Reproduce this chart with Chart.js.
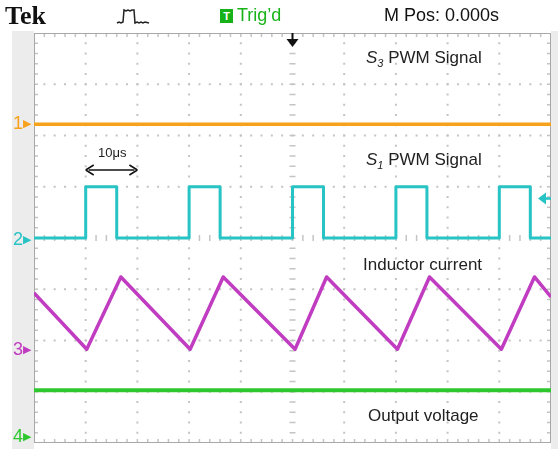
<!DOCTYPE html>
<html>
<head>
<meta charset="utf-8">
<script src="https://cdn.jsdelivr.net/npm/chart.js@4.4.0/dist/chart.umd.min.js"></script>
<style>
  body { margin: 0; background: #fff; }
  #wrap { position: relative; width: 558px; height: 449px; overflow: hidden; font-family: "Liberation Sans", Arial, sans-serif; }
  #side { position: absolute; left: 12px; top: 31px; width: 22px; height: 418px; background: #ececec; }
  #rside { position: absolute; left: 551px; top: 31px; width: 7px; height: 418px; background: #ececec; }
  canvas { position: absolute; left: 0; top: 0; }
  .lbl { position: absolute; white-space: nowrap; }
  .note { font-size: 17px; color: #222; }
  .hdr { font-family: "Liberation Sans Narrow", "Liberation Sans", sans-serif; font-stretch: condensed; font-size: 17px; color: #111; }
  .ch { font-size: 18px; }
  .ch span { font-size: 11px; vertical-align: 2px; }
</style>
</head>
<body>
<div id="wrap">
  <div id="side"></div>
  <div id="rside"></div>
  <canvas id="scope" width="558" height="449"></canvas>

  <div class="lbl" style="left:5px;top:1px;font-family:'Liberation Serif',serif;font-weight:bold;font-size:26px;color:#111;">Tek</div>
  <svg class="lbl" style="left:116px;top:6px" width="36" height="20">
    <polyline points="1,17 3,16 5,17 7,16 8,4 10,5 12,4 14,5 16,4 18,4 19,17 21,16 23,17 25,16 27,17 29,16 33,17" fill="none" stroke="#222" stroke-width="1.5"/>
  </svg>
  <div class="lbl" style="left:220px;top:9px;width:13px;height:14px;background:#17b217;color:#fff;font-size:11px;font-weight:bold;text-align:center;line-height:14px;">T</div>
  <div class="lbl hdr" style="left:237px;top:5px;color:#19b319;font-size:18px;">Trig’d</div>
  <div class="lbl hdr" style="left:384px;top:5px;font-size:18px;">M Pos: 0.000s</div>

  <div class="lbl note" style="left:366px;top:48px;"><i>S</i><sub style="font-size:11px"><i>3</i></sub> PWM Signal</div>
  <div class="lbl note" style="left:366px;top:150px;"><i>S</i><sub style="font-size:11px"><i>1</i></sub> PWM Signal</div>
  <div class="lbl note" style="left:363px;top:255px;">Inductor current</div>
  <div class="lbl note" style="left:368px;top:406px;">Output voltage</div>
  <div class="lbl" style="left:98px;top:145px;font-size:13px;color:#222;">10μs</div>

  <div class="lbl ch" style="left:13px;top:113px;color:#f7a21b;">1<span>▶</span></div>
  <div class="lbl ch" style="left:13px;top:229px;color:#27c3c5;">2<span>▶</span></div>
  <div class="lbl ch" style="left:13px;top:339px;color:#c03cc0;">3<span>▶</span></div>
  <div class="lbl ch" style="left:13px;top:426px;color:#2ec82e;">4<span>▶</span></div>
</div>
<script>
// time axis in microseconds (10 us/div), vertical axis in divisions
const xTicks = [0, 10, 20, 30, 40, 50, 60, 70, 80, 90, 100];
const yTicks = [-4, -3, -2, -1, 0, 1, 2, 3, 4];

// S3 PWM signal (ch1) - stays low
const s3Time = [0, 100];
const s3Level = [2.22, 2.22];

// S1 PWM signal (ch2)
const s1Time = [0, 10, 10, 16, 16, 30, 30, 36, 36, 50, 50, 56, 56, 70, 70, 76, 76, 90, 90, 96, 96, 100];
const s1Level = [0, 0, 1, 1, 0, 0, 1, 1, 0, 0, 1, 1, 0, 0, 1, 1, 0, 0, 1, 1, 0, 0];

// inductor current (ch3)
const iLTime = [0, 10.2, 16.8, 30.2, 36.6, 50.5, 56.6, 70.3, 76.5, 90.4, 96.8, 100];
const iLLevel = [-1.07, -2.17, -0.76, -2.17, -0.76, -2.17, -0.76, -2.17, -0.76, -2.17, -0.76, -1.15];

// output voltage (ch4)
const voTime = [0, 100];
const voLevel = [-2.97, -2.97];

const pts = (t, v) => t.map((x, i) => ({ x: x, y: v[i] }));

const scopeGrid = {
  id: 'scopeGrid',
  beforeDatasetsDraw(chart) {
    const ctx = chart.ctx;
    const xs = chart.scales.x, ys = chart.scales.y;
    const a = chart.chartArea;
    ctx.save();
    ctx.fillStyle = '#c4c4c4';
    // dotted division lines
    xTicks.forEach(t => {
      if (t === 0 || t === 100 || t === 50) return;
      const px = xs.getPixelForValue(t);
      for (let k = 1; k < 40; k++) {
        const py = ys.getPixelForValue(-4 + k * 0.2);
        ctx.fillRect(px - 1, py - 1, 2, 2);
      }
    });
    yTicks.forEach(v => {
      if (v === -4 || v === 4 || v === 0) return;
      const py = ys.getPixelForValue(v);
      for (let k = 1; k < 50; k++) {
        const px = xs.getPixelForValue(k * 2);
        ctx.fillRect(px - 1, py - 1, 2, 2);
      }
    });
    // centre lines with minor ticks
    ctx.strokeStyle = '#c4c4c4';
    ctx.lineWidth = 1.5;
    const cx = xs.getPixelForValue(50), cy = ys.getPixelForValue(0);
    ctx.beginPath();
    for (let k = 1; k < 40; k++) {
      const py = ys.getPixelForValue(-4 + k * 0.2);
      ctx.moveTo(cx - 3, py); ctx.lineTo(cx + 3, py);
    }
    for (let k = 1; k < 50; k++) {
      const px = xs.getPixelForValue(k * 2);
      ctx.moveTo(px, cy - 3); ctx.lineTo(px, cy + 3);
    }
    // edge ticks
    for (let k = 1; k < 50; k++) {
      const px = xs.getPixelForValue(k * 2);
      ctx.moveTo(px, a.top); ctx.lineTo(px, a.top + 4);
      ctx.moveTo(px, a.bottom); ctx.lineTo(px, a.bottom - 4);
    }
    for (let k = 1; k < 40; k++) {
      const py = ys.getPixelForValue(-4 + k * 0.2);
      ctx.moveTo(a.left, py); ctx.lineTo(a.left + 4, py);
      ctx.moveTo(a.right, py); ctx.lineTo(a.right - 4, py);
    }
    ctx.stroke();
    // frame
    ctx.strokeStyle = '#a8a8a8';
    ctx.lineWidth = 1;
    ctx.strokeRect(a.left + 0.5, a.top + 0.5, a.right - a.left - 1, a.bottom - a.top - 1);
    ctx.restore();
  },
  afterDatasetsDraw(chart) {
    const ctx = chart.ctx;
    const xs = chart.scales.x, ys = chart.scales.y;
    ctx.save();
    // trigger position arrow
    const cx = xs.getPixelForValue(50);
    ctx.strokeStyle = '#111'; ctx.fillStyle = '#111'; ctx.lineWidth = 2;
    ctx.beginPath(); ctx.moveTo(cx, 33); ctx.lineTo(cx, 41); ctx.stroke();
    ctx.beginPath(); ctx.moveTo(cx - 6, 39); ctx.lineTo(cx + 6, 39); ctx.lineTo(cx, 47); ctx.closePath(); ctx.fill();
    // trigger level arrow
    const ty = ys.getPixelForValue(0.77);
    ctx.strokeStyle = '#27c3c5'; ctx.fillStyle = '#27c3c5'; ctx.lineWidth = 2.5;
    ctx.beginPath(); ctx.moveTo(543, ty); ctx.lineTo(551, ty); ctx.stroke();
    ctx.beginPath(); ctx.moveTo(538, ty); ctx.lineTo(546, ty - 6); ctx.lineTo(546, ty + 6); ctx.closePath(); ctx.fill();
    // 10 us span arrow
    const x1 = xs.getPixelForValue(10), x2 = xs.getPixelForValue(20), ay = 170;
    ctx.strokeStyle = '#111'; ctx.fillStyle = '#111'; ctx.lineWidth = 1.5;
    ctx.beginPath(); ctx.moveTo(x1 + 3, ay); ctx.lineTo(x2 - 3, ay); ctx.stroke();
    ctx.beginPath(); ctx.moveTo(x1, ay); ctx.lineTo(x1 + 8, ay - 5); ctx.moveTo(x1, ay); ctx.lineTo(x1 + 8, ay + 5);
    ctx.moveTo(x2, ay); ctx.lineTo(x2 - 8, ay - 5); ctx.moveTo(x2, ay); ctx.lineTo(x2 - 8, ay + 5);
    ctx.stroke();
    ctx.restore();
  }
};

new Chart(document.getElementById('scope'), {
  type: 'line',
  data: {
    datasets: [
      { label: 'S3', data: pts(s3Time, s3Level), borderColor: '#f7a21b', borderWidth: 3.5 },
      { label: 'S1', data: pts(s1Time, s1Level), borderColor: '#27c3c5', borderWidth: 3 },
      { label: 'iL', data: pts(iLTime, iLLevel), borderColor: '#c03cc0', borderWidth: 3.5 },
      { label: 'Vo', data: pts(voTime, voLevel), borderColor: '#2ec82e', borderWidth: 4 }
    ]
  },
  options: {
    responsive: false,
    animation: false,
    layout: { padding: { left: 34, right: 7, top: 33, bottom: 6 } },
    elements: { point: { radius: 0 }, line: { tension: 0, borderJoinStyle: 'round' } },
    plugins: { legend: { display: false }, tooltip: { enabled: false } },
    scales: {
      x: { type: 'linear', min: 0, max: 100, display: false },
      y: { type: 'linear', min: -4, max: 4, display: false }
    }
  },
  plugins: [scopeGrid]
});
</script>
</body>
</html>
